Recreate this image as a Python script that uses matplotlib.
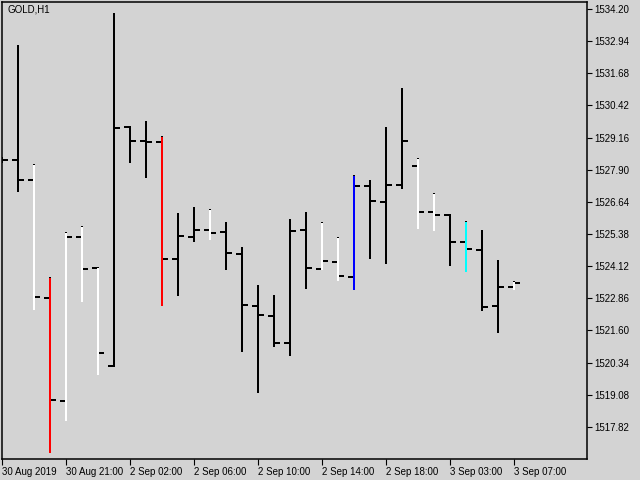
import numpy as np
import matplotlib
matplotlib.use("Agg")
import matplotlib.pyplot as plt

# GOLD H1 bars
opens = [1528.28, 1528.28, 1527.50, 1522.87, 1518.84, 1525.26, 1524.05, 1520.21,
         1529.58, 1529.03, 1528.99, 1524.40, 1525.26, 1525.54, 1525.46, 1524.60,
         1522.56, 1522.17, 1521.11, 1525.54, 1524.01, 1524.29, 1523.70, 1527.26,
         1526.64, 1527.30, 1528.05, 1526.24, 1526.13, 1525.07, 1524.75, 1522.56,
         1523.31]
highs = [1528.40, 1532.79, 1528.13, 1523.70, 1525.46, 1525.70, 1524.08, 1534.04,
         1529.60, 1529.81, 1529.22, 1526.20, 1526.44, 1526.36, 1525.85, 1524.87,
         1523.38, 1522.99, 1525.97, 1526.24, 1525.85, 1525.26, 1527.69, 1527.50,
         1529.58, 1531.10, 1528.36, 1526.99, 1526.17, 1525.89, 1525.54, 1524.36,
         1523.54]
lows = [1528.15, 1527.03, 1522.40, 1516.80, 1518.05, 1522.72, 1519.86, 1520.18,
        1528.16, 1527.58, 1522.56, 1522.95, 1525.07, 1525.15, 1523.97, 1520.76,
        1519.15, 1520.95, 1520.60, 1523.23, 1523.97, 1523.54, 1523.19, 1524.40,
        1524.21, 1527.15, 1525.58, 1525.50, 1524.13, 1523.89, 1522.36, 1521.50,
        1523.19]
closes = [1528.28, 1527.50, 1522.91, 1518.88, 1525.26, 1524.01, 1520.72, 1529.54,
          1529.03, 1528.99, 1524.40, 1525.30, 1525.54, 1525.42, 1524.64, 1522.60,
          1522.21, 1521.11, 1525.50, 1524.05, 1524.32, 1523.74, 1527.26, 1526.68,
          1527.30, 1529.03, 1526.24, 1526.13, 1525.07, 1524.79, 1522.52, 1523.31,
          1523.46]
bar_colors = ["black", "black", "white", "red", "white", "white", "white", "black",
              "black", "black", "red", "black", "black", "white", "black", "black",
              "black", "black", "black", "black", "white", "white", "blue", "black",
              "black", "black", "white", "white", "black", "cyan", "black", "black",
              "white"]

price_ticks = [1534.20, 1532.94, 1531.68, 1530.42, 1529.16, 1527.90, 1526.64,
               1525.38, 1524.12, 1522.86, 1521.60, 1520.34, 1519.08, 1517.82]
time_tick_pos = [0, 4, 8, 12, 16, 20, 24, 28, 32]
time_tick_labels = ["30 Aug 2019", "30 Aug 21:00", "2 Sep 02:00", "2 Sep 06:00",
                    "2 Sep 10:00", "2 Sep 14:00", "2 Sep 18:00", "3 Sep 03:00",
                    "3 Sep 07:00"]

plt.rcParams['font.family'] = ['Liberation Sans', 'DejaVu Sans']
bg = "#d3d3d3"

fig = plt.figure(figsize=(6.4, 4.8), dpi=100, facecolor=bg)
ax = fig.add_axes([2 / 640, 1 - 459 / 480, 585 / 640, 457 / 480], facecolor=bg)

x = np.arange(len(opens))
lw = 1.44

# base bars in black
ax.vlines(x, lows, highs, color="black", linewidth=lw)
ax.hlines(opens, x - 0.375, x, color="black", linewidth=lw)
ax.hlines(closes, x, x + 0.375, color="black", linewidth=lw)

# coloured overlay (leaves a black pixel on top)
for i, c in enumerate(bar_colors):
    if c != "black":
        ax.vlines(x[i], lows[i], highs[i] - 0.045, color=c, linewidth=lw)

ax.set_xlim(0, 36.5625)
ax.set_ylim(1516.564, 1534.474)

ax.yaxis.tick_right()
ax.set_yticks(price_ticks)
ax.set_yticklabels([f"{p:.2f}" for p in price_ticks])
ax.set_xticks(time_tick_pos)
ax.set_xticklabels(time_tick_labels, ha="left")

ax.tick_params(axis="y", direction="out", length=3.5, width=0.8, pad=1.5,
               labelsize=7, colors="black")
ax.tick_params(axis="x", direction="out", length=4, width=0.8, pad=1.5,
               labelsize=7, colors="black")
for lab in ax.get_xticklabels():
    lab.set_x(lab.get_position()[0])

for s in ax.spines.values():
    s.set_linewidth(1.1)
    s.set_color("black")

fig.text(7 / 640, 1 - 10 / 480, "GOLD,H1", fontsize=7, va="center", ha="left")

fig.savefig("out.png", dpi=100, facecolor=bg)
